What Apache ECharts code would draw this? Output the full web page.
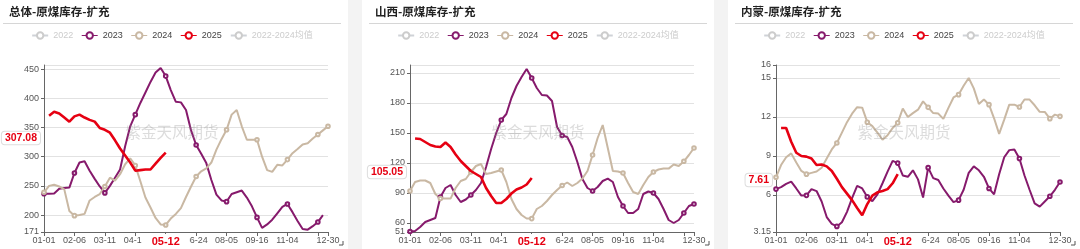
<!DOCTYPE html>
<html>
<head>
<meta charset="utf-8">
<script src="https://cdn.jsdelivr.net/npm/echarts@6/dist/echarts.min.js"></script>
<style>
  html,body{margin:0;padding:0;background:#f3f3f3;width:1080px;height:249px;overflow:hidden;position:relative;}
  .card{position:absolute;top:0;width:352px;height:249px;background:#fff;}
</style>
</head>
<body>
<div class="card" id="c1" style="left:-4px"></div>
<div class="card" id="c2" style="left:362px"></div>
<div class="card" id="c3" style="left:728px"></div>
<script>
// ---- categories (MM-DD) ----
const categories = [
  '01-01','01-07','01-13','01-19','01-25','01-31','02-06',
  '02-12','02-17','02-23','02-28','03-05','03-11',
  '03-17','03-22','03-28','04-03','04-08','04-15',
  '04-18','04-23','04-28','05-02','05-07','05-12',
  '05-19','05-26','06-02','06-09','06-16','06-24',
  '07-01','07-08','07-15','07-22','07-29','08-05',
  '08-12','08-19','08-26','09-02','09-09','09-16',
  '09-24','10-02','10-10','10-18','10-26','11-04',
  '11-11','11-18','11-25','12-02','12-09','12-16','12-23','12-30'
];
const legendNames = ['2022','2023','2024','2025','2022-2024均值'];
const titles = ['总体-原煤库存-扩充','山西-原煤库存-扩充','内蒙-原煤库存-扩充'];
const yMins = [171, 51, 3.15];
const yMaxs = [457, 218, 16];
const pointerDate = '05-12';

// ---- 总体 ----
const total2023 = [236.5,236.5,237,245,246.5,247,272,290,292,276,262,249,238,250,264,278,318,352,372,392,410,428,444,452,438,414,394,393,380,345,320,305,289,260,235,225,223,236,239,242,230,215,196,178,184,192,203,214,219,205,190,176,175,181,188,200,null];
const total2024 = [239,250,252,249,244,207,199,200,202,225,231,236,249,264,259,270,287,297,285,258,230,213,195,184,183,194,202,212,231,249,266,275,280,290,312,330,346,372,380,352,329,329,329,300,277,274,286,285,295,306,313,321,323,331,338,345,352];
const total2025 = [null,370,377,374,367,360,369,372,367,363,360,349,346,341,328,314,302,290,276,277,278,278,288,298,307.08];

// ---- 山西 ----
const sx2023 = [51.5,52,56,61,63,65,86,95,98,88,81,83.5,88,93,100,116,134,150,163,169,185,197,206,214,205,195,188,187.5,182,156,147.5,146,136,121,104,95,92,96,102,104.4,101,86,77,70,70,74,89,91.5,90,84,74,63,60,63,70,77,79];
const sx2024 = [92,101,102.5,102.5,100,89,84.5,84.4,84.4,95,102,104,111,117,119,109,110,111.5,113,101,84,74,68,64.5,64.4,74,77,82,88,93,97.5,100.5,97,100,104.5,112,128,145,158,135,112,111.5,110,100,91,89,98,106,111,113.5,114.4,114.4,118.5,117,121.7,128,135];
const sx2025 = [null,144.5,144,141,138,136.5,136,140.5,136,128.5,122,117,112,109,106,95,87,80,80,84,89.5,93.5,95.5,98.5,105.05];

// ---- 内蒙 ----
const nm2023 = [6.45,6.6,6.85,7.02,6.5,5.95,5.97,6.45,6.3,5.5,4.3,3.78,3.58,3.9,4.7,5.75,6.7,6.5,5.85,5.52,6.05,6.9,7.8,8.62,8.45,7.5,7.4,7.9,7.2,5.8,8.1,7.3,7.15,6.5,5.95,5.45,5.6,6.4,7.7,8.2,7.9,7.4,6.5,6.05,7.6,8.9,9.45,9.5,8.8,7.5,6.4,5.35,5.1,5.5,5.9,6.4,7.0];
const nm2024 = [7.36,8.3,8.9,9.2,8.5,7.85,7.6,7.7,7.8,8.1,8.8,9.5,10.0,10.8,11.6,12.25,12.75,12.72,11.6,11.3,10.8,10.25,10.6,11.15,11.55,12.65,12.0,12.3,12.56,13.2,12.74,12.3,12.26,11.85,12.7,13.5,13.72,14.4,15.0,14.2,13.0,13.35,12.95,11.9,10.7,11.8,12.95,12.95,12.77,13.35,13.34,12.9,12.4,12.39,11.87,12.18,12.05];
const nm2025 = [null,11.15,11.15,10.1,9.25,9.0,8.95,8.8,8.3,8.35,8.2,7.85,7.25,6.6,6.1,5.6,5.0,4.44,5.3,5.95,6.2,6.3,6.45,6.9,7.61];

// y position (axis value) where the latest-value badge sits in the reference
const badgeAt = [331.8, 111, 7.15];

const colors = {'2022':'#cfcfcf','2023':'#861a6c','2024':'#c9b8a3','2025':'#e60012','2022-2024均值':'#cfcfcf'};
const FONT = "'Liberation Sans','Noto Sans CJK SC',sans-serif";

function makeOption(i, s2023, s2024, s2025){
  const last = s2025[s2025.length-1];
  const mkSeries = (name, data, opts) => Object.assign({
    name: name, type: 'line', data: data, symbol: 'emptyCircle', symbolSize: 3.6,
    showAllSymbol: 'auto', connectNulls: false,
    itemStyle: {color: colors[name], borderWidth: 1},
    lineStyle: {color: colors[name], width: 2},
    emphasis: {disabled: true}
  }, opts || {});
  return {
    animation: false,
    textStyle: {fontFamily: FONT},
    title: {
      text: titles[i], left: 13, top: 6, padding: 0,
      textStyle: {fontSize: 11.5, fontWeight: 'bold', color: '#222', fontFamily: "'Noto Sans CJK SC',sans-serif"}
    },
    legend: {
      data: legendNames, top: 26, left: 'center', itemWidth: 16, itemHeight: 8, itemGap: 8,
      selected: {'2022': false, '2022-2024均值': false},
      inactiveColor: '#ccc',
      itemStyle: {borderWidth: 1},
      lineStyle: {width: 1},
      textStyle: {fontSize: 9, color: '#444', fontFamily: FONT}
    },
    axisPointer: {triggerOn: 'none'},
    grid: {left: 48, right: 20, top: 65, bottom: 17, containLabel: false},
    xAxis: {
      type: 'category', data: categories, boundaryGap: false,
      axisLine: {lineStyle: {color: '#666'}},
      axisTick: {length: 4, lineStyle: {color: '#666'}},
      axisLabel: {
        fontSize: 9, color: '#555', margin: 4, interval: 5, showMaxLabel: true,
        formatter: (v, idx) => idx === 54 ? '' : v
      },
      splitLine: {show: false},
      axisPointer: {
        show: true, status: 'show', value: categories.indexOf(pointerDate), snap: true,
        triggerTooltip: false,
        lineStyle: {color: 'rgba(0,0,0,0)', width: 0},
        label: {show: true, color: '#e60012', fontWeight: 'bold', fontSize: 11, fontFamily: FONT,
          backgroundColor: '#fff', padding: [2, 10], margin: 3, shadowBlur: 0, borderWidth: 0}
      }
    },
    yAxis: {
      type: 'value', min: yMins[i], max: yMaxs[i], splitNumber: 5,
      axisLine: {show: true, lineStyle: {color: '#666'}},
      axisTick: {show: true, length: 3, lineStyle: {color: '#666'}},
      axisLabel: {fontSize: 9, color: '#555', margin: 5, showMinLabel: true},
      splitLine: {lineStyle: {color: '#e2e2e2'}},
      axisPointer: {
        show: true, status: 'show', value: badgeAt[i], snap: false,
        triggerTooltip: false,
        lineStyle: {color: 'rgba(0,0,0,0)', width: 0},
        label: {show: true, formatter: () => last.toFixed(2), color: '#e60012', fontWeight: 'bold',
          fontSize: 10.5, fontFamily: FONT, backgroundColor: '#fff', borderColor: '#ddd', borderWidth: 1,
          padding: [1, 3], margin: 4, shadowBlur: 0}
      }
    },
    graphic: [
      {type: 'line', shape: {x1: 7, y1: 23.5, x2: 345, y2: 23.5}, style: {stroke: '#d6d6d6', lineWidth: 1}, silent: true},
      {type: 'text', left: 'center', top: 124, z: 100, silent: true,
        style: {text: '紫金天风期货', fontSize: 15.5, fill: 'rgba(140,140,140,0.3)', fontFamily: "'Noto Sans CJK SC',sans-serif"}},
      {type: 'polyline', shape: {points: [[347, 241], [347, 245], [343, 245]]}, style: {stroke: '#555', lineWidth: 1, fill: null}, silent: true}
    ],
    series: [
      mkSeries('2022', []),
      mkSeries('2023', s2023),
      mkSeries('2024', s2024),
      mkSeries('2025', s2025, {showSymbol: false, lineStyle: {color: colors['2025'], width: 2.6}, z: 5}),
      mkSeries('2022-2024均值', [])
    ]
  };
}

const sets = [[total2023,total2024,total2025],[sx2023,sx2024,sx2025],[nm2023,nm2024,nm2025]];
['c1','c2','c3'].forEach((id, i) => {
  const chart = echarts.init(document.getElementById(id), null, {renderer: 'canvas'});
  chart.setOption(makeOption(i, sets[i][0], sets[i][1], sets[i][2]));
});
</script>
</body>
</html>
